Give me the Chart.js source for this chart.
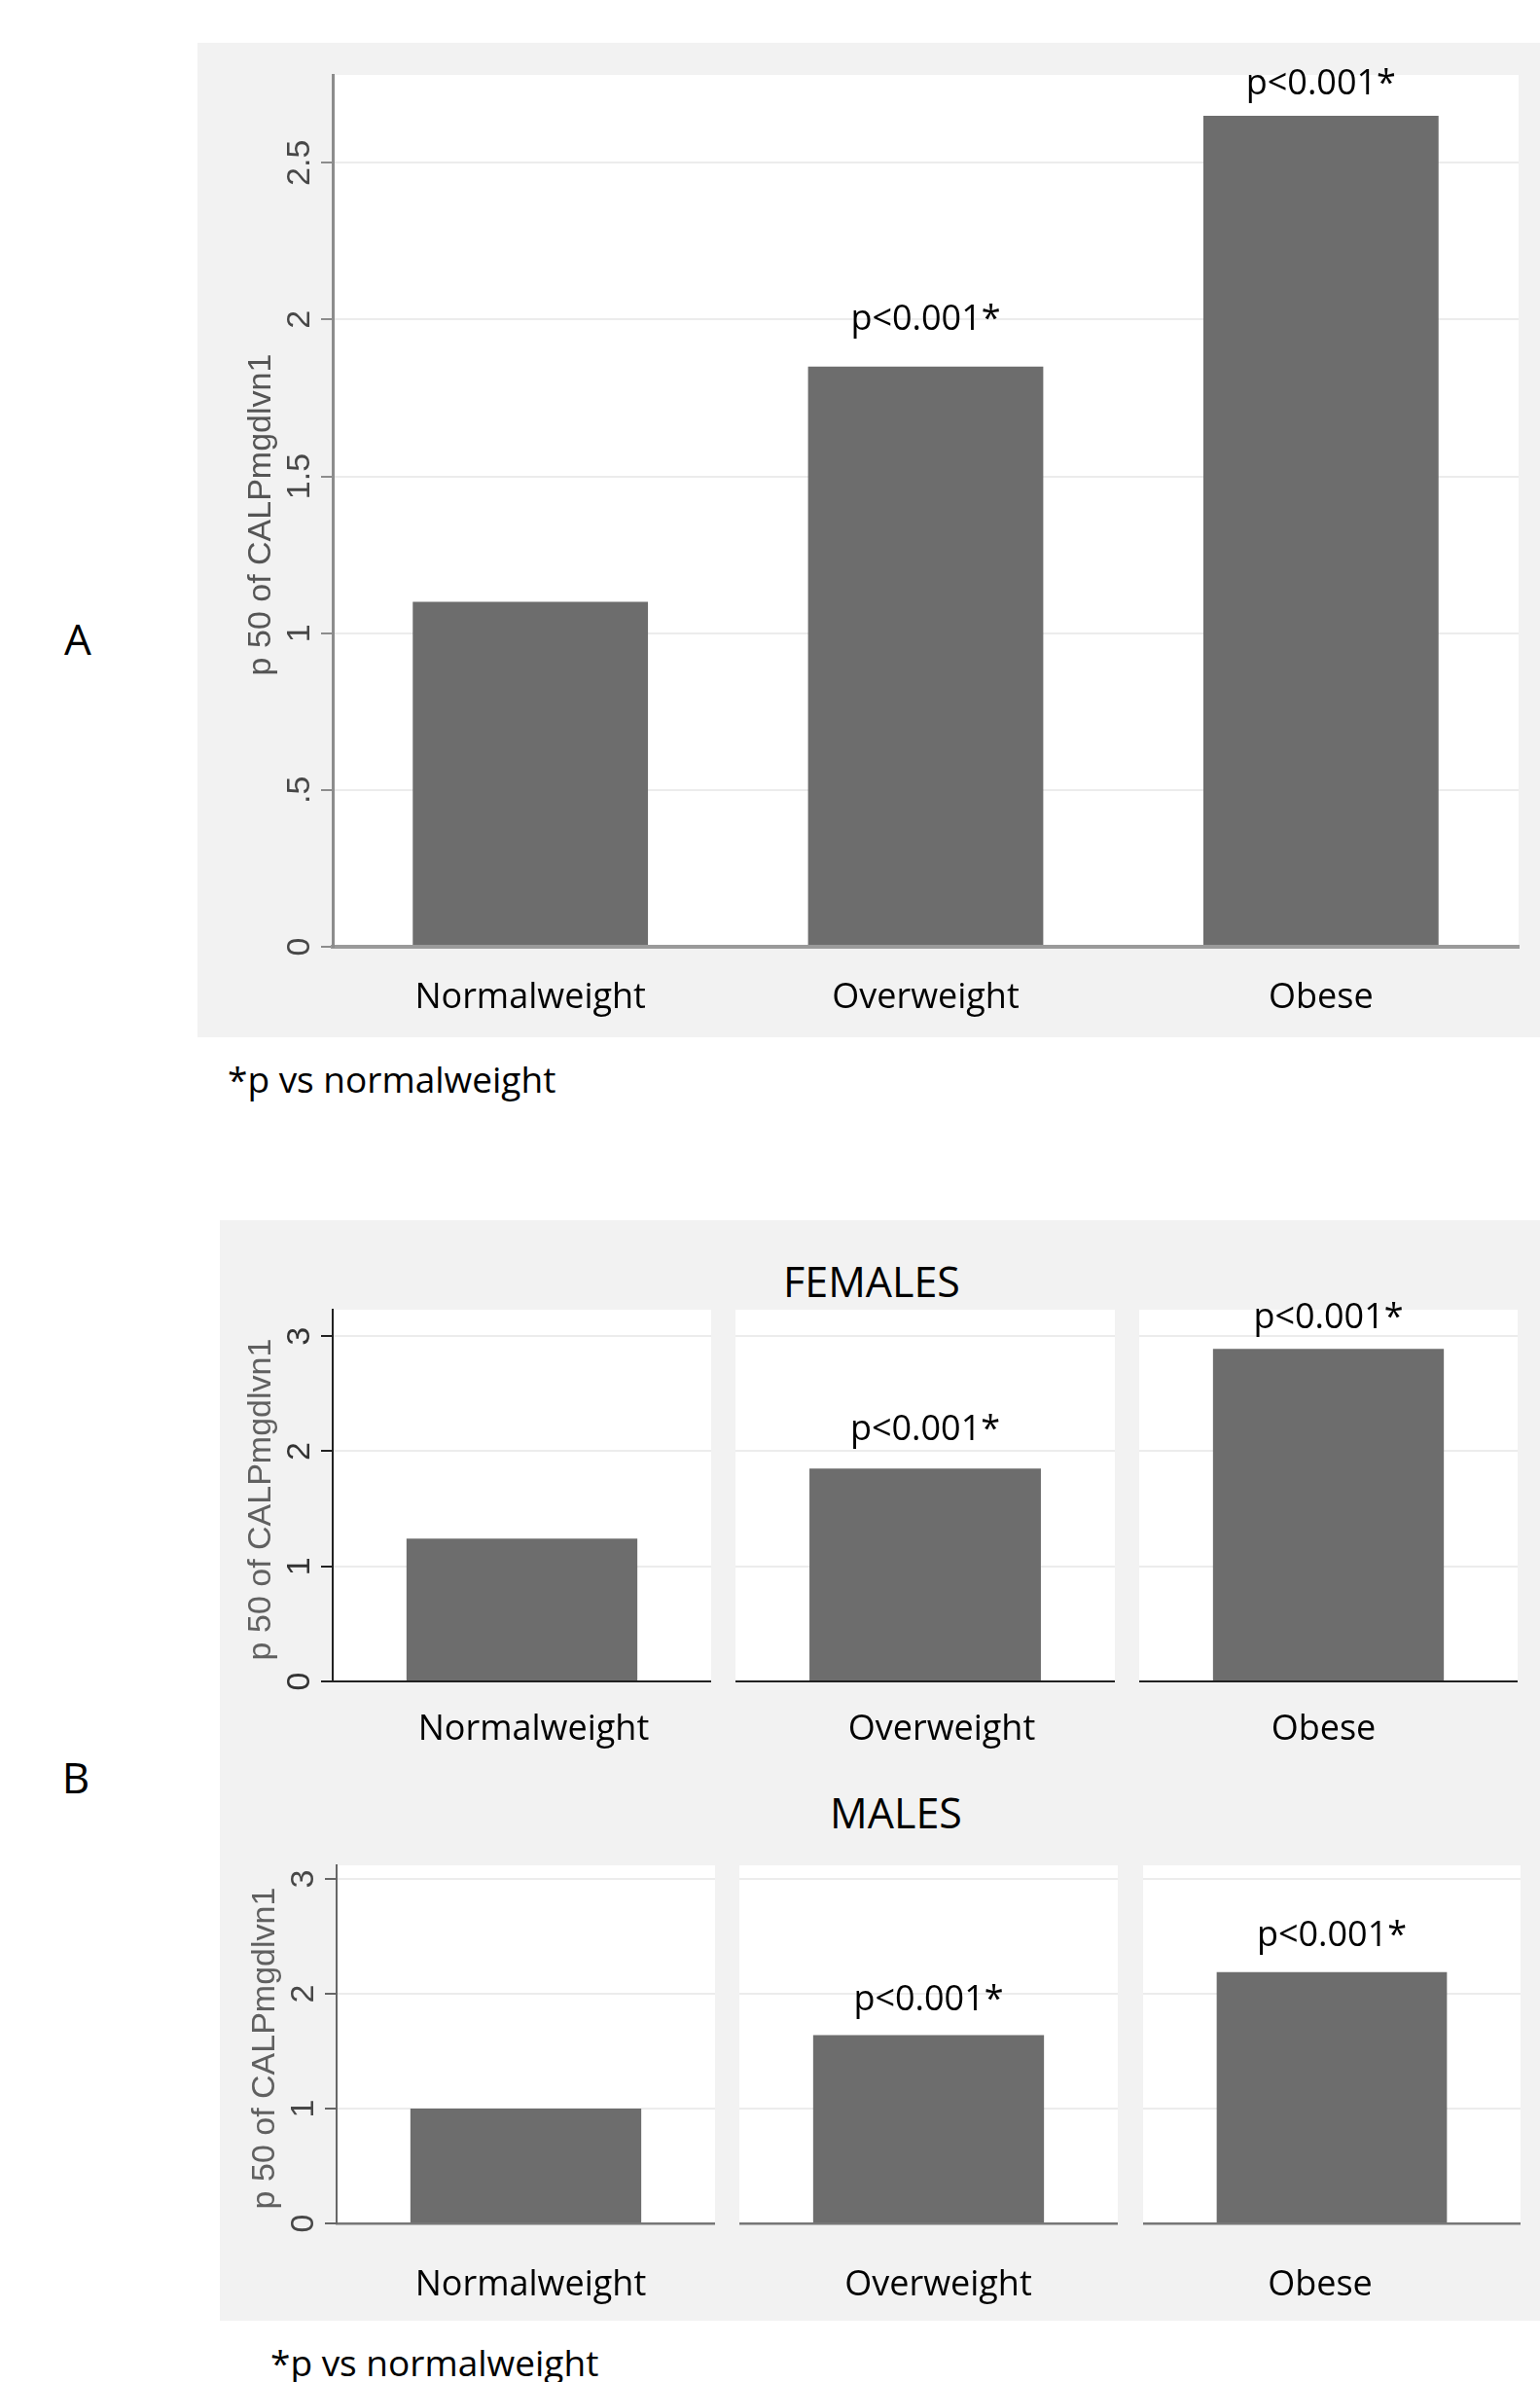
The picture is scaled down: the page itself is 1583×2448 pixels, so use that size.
<!DOCTYPE html>
<html>
<head>
<meta charset="utf-8">
<script src="https://cdn.jsdelivr.net/npm/chart.js@4.4.1/dist/chart.umd.min.js"></script>
<style>
  html, body { margin: 0; padding: 0; background: #fff; }
  body { width: 1583px; height: 2448px; position: relative; overflow: hidden; font-family: 'Open Sans', sans-serif; color: #000; }
  .bg { position: absolute; background: #f2f2f2; }
  .txt { position: absolute; line-height: 1; white-space: nowrap; }
  .ctr { transform: translate(-50%, -50%); }
  .lft { transform: translate(0, -50%); }
  canvas { position: absolute; }
</style>
</head>
<body>
<div class="bg" style="left:203px;top:44px;width:1380px;height:1022px"></div>
<div class="bg" style="left:226px;top:1254px;width:1357px;height:1131px"></div>

<div class="txt ctr" style="left:80px;top:656px;font-size:44px">A</div>
<div class="txt ctr" style="left:78px;top:1826px;font-size:44px">B</div>
<div class="txt ctr" style="left:896px;top:1316px;font-size:43px">FEMALES</div>
<div class="txt ctr" style="left:921px;top:1862px;font-size:43px">MALES</div>
<div class="txt lft" style="left:234px;top:1108px;font-size:37px">*p vs normalweight</div>
<div class="txt lft" style="left:278px;top:2427px;font-size:37px">*p vs normalweight</div>

<canvas id="chartA" width="1380" height="1022" style="left:203px;top:44px"></canvas>
<canvas id="fem0" width="505" height="530" style="left:226px;top:1290px"></canvas>
<canvas id="fem1" width="390" height="530" style="left:756px;top:1290px"></canvas>
<canvas id="fem2" width="389" height="530" style="left:1171px;top:1290px"></canvas>
<canvas id="male0" width="509" height="500" style="left:226px;top:1880px"></canvas>
<canvas id="male1" width="389" height="500" style="left:760px;top:1880px"></canvas>
<canvas id="male2" width="388" height="500" style="left:1175px;top:1880px"></canvas>

<script>
const categories = ['Normalweight', 'Overweight', 'Obese']
const allMedian = [1.1, 1.85, 2.65]
const femaleMedian = [1.24, 1.85, 2.89]
const maleMedian = [1.0, 1.64, 2.19]
const pText = ['', 'p<0.001*', 'p<0.001*']
// where the p-value notes sit, in y-axis units
const allPY = [null, 2.0, 2.75]
const femalePY = [null, 2.18, 3.16]
const malePY = [null, 1.94, 2.5]
const ticksA = [0, 0.5, 1, 1.5, 2, 2.5]
const tickLabelsA = ['0', '.5', '1', '1.5', '2', '2.5']
const ticksB = [0, 1, 2, 3]
const tickLabelsB = ['0', '1', '2', '3']
const yTitle = 'p 50 of CALPmgdlvn1'

Chart.defaults.font.family = 'Open Sans'

const plotBg = {
  id: 'plotBg',
  beforeDraw(chart) {
    const { ctx, chartArea: a } = chart
    ctx.save()
    ctx.fillStyle = '#ffffff'
    ctx.fillRect(a.left, a.top, a.right - a.left, a.bottom - a.top)
    ctx.restore()
  },
}

const pLabelPlugin = (o) => ({
  id: 'pLabels',
  afterDatasetsDraw(chart) {
    const { ctx } = chart
    const bars = chart.getDatasetMeta(0).data
    const y = chart.scales.y
    ctx.save()
    ctx.font = '36px "Open Sans"'
    ctx.fillStyle = '#000'
    ctx.textAlign = 'center'
    ctx.textBaseline = 'middle'
    o.pLabels.forEach((t, i) => {
      if (t && o.pY[i] != null) ctx.fillText(t, bars[i].x, y.getPixelForValue(o.pY[i]))
    })
    ctx.restore()
  },
})

// Stata style: tick labels and title turned on their side
const yAxisText = (o) => ({
  id: 'yAxisText',
  afterDraw(chart) {
    const { ctx, chartArea: a } = chart
    const y = chart.scales.y
    ctx.save()
    ctx.fillStyle = o.tickLabelColor
    ctx.font = '34px "Liberation Sans"'
    ctx.textAlign = 'center'
    ctx.textBaseline = 'alphabetic'
    o.yTicks.forEach((v, i) => {
      ctx.save()
      ctx.translate(a.left - 24, y.getPixelForValue(v))
      ctx.rotate(-Math.PI / 2)
      ctx.fillText(o.yTickLabels[i], 0, 0)
      ctx.restore()
    })
    ctx.fillStyle = o.titleColor
    ctx.font = '34px "Liberation Sans"'
    ctx.translate(a.left - 64, (a.top + a.bottom) / 2 + 4)
    ctx.rotate(-Math.PI / 2)
    ctx.fillText(yTitle, 0, 0)
    ctx.restore()
  },
})

function makeChart(id, o) {
  const plugins = [plotBg, pLabelPlugin(o)]
  if (o.showY) plugins.push(yAxisText(o))
  return new Chart(document.getElementById(id), {
    type: 'bar',
    data: {
      labels: o.labels,
      datasets: [
        {
          data: o.values,
          backgroundColor: '#6d6d6d',
          barPercentage: o.barPct,
          categoryPercentage: 1,
        },
      ],
    },
    options: {
      responsive: false,
      animation: false,
      events: [],
      layout: { padding: { top: o.padTop, right: o.padRight, left: 0, bottom: 0 } },
      plugins: {
        legend: { display: false },
        tooltip: { enabled: false },
      },
      scales: {
        x: {
          grid: { display: false, drawTicks: false },
          border: { display: true, color: o.xAxisColor, width: o.xAxisWidth, z: 1 },
          ticks: {
            color: '#000',
            font: { family: 'Open Sans', size: 36 },
            padding: o.labelPad,
            labelOffset: o.labelShift || 0,
            maxRotation: 0,
            autoSkip: false,
          },
          afterFit: (s) => {
            s.height = o.xAxisHeight
          },
        },
        y: {
          min: 0,
          max: o.yMax,
          afterBuildTicks: (s) => {
            s.ticks = o.yTicks.map((v) => ({ value: v }))
          },
          grid: {
            color: '#ececec',
            lineWidth: 2,
            drawTicks: o.showY,
            tickLength: 12,
            tickColor: o.axisColor,
            tickWidth: 2,
          },
          border: { display: o.showY, color: o.axisColor, width: o.axisWidth, z: 1 },
          ticks: { display: false },
          afterFit: (s) => {
            s.width = o.yAxisWidth
          },
        },
      },
    },
    plugins: plugins,
  })
}

function draw() {
  makeChart('chartA', {
    labels: categories,
    values: allMedian,
    pLabels: pText,
    pY: allPY,
    yMax: 2.78,
    yTicks: ticksA,
    yTickLabels: tickLabelsA,
    showY: true,
    yAxisWidth: 139,
    xAxisHeight: 93,
    padTop: 33,
    padRight: 22,
    barPct: 0.595,
    labelPad: 31,
    axisColor: '#8c8c8c',
    axisWidth: 3,
    xAxisColor: '#9a9a9a',
    xAxisWidth: 4,
    tickLabelColor: '#474747',
    titleColor: '#555',
  })

  const rows = [
    {
      prefix: 'fem', values: femaleMedian, pY: femalePY, yMax: 3.23,
      padTop: 56, xAxisHeight: 92, labelPad: 28, firstWidth: 116,
      shifts: [12, 17, -5],
      axisColor: '#222', xAxisColor: '#222', xAxisWidth: 2,
      tickLabelColor: '#333', titleColor: '#606060',
    },
    {
      prefix: 'male', values: maleMedian, pY: malePY, yMax: 3.12,
      padTop: 37, xAxisHeight: 95, labelPad: 42, firstWidth: 120,
      shifts: [5, 10, -12],
      axisColor: '#666', xAxisColor: '#777', xAxisWidth: 2.5,
      tickLabelColor: '#474747', titleColor: '#606060',
    },
  ]

  rows.forEach((r) => {
    categories.forEach((c, i) => {
      makeChart(r.prefix + i, {
        labels: [c],
        values: [r.values[i]],
        pLabels: [pText[i]],
        pY: [r.pY[i]],
        yMax: r.yMax,
        yTicks: ticksB,
        yTickLabels: tickLabelsB,
        showY: i === 0,
        yAxisWidth: i === 0 ? r.firstWidth : 0,
        xAxisHeight: r.xAxisHeight,
        padTop: r.padTop,
        padRight: 0,
        barPct: 0.61,
        labelPad: r.labelPad,
        labelShift: r.shifts[i],
        axisColor: r.axisColor,
        axisWidth: 2,
        xAxisColor: r.xAxisColor,
        xAxisWidth: r.xAxisWidth,
        tickLabelColor: r.tickLabelColor,
        titleColor: r.titleColor,
      })
    })
  })
}

Promise.all([
  document.fonts.load('36px "Open Sans"'),
  document.fonts.load('34px "Liberation Sans"'),
]).then(draw, draw)
</script>
</body>
</html>
